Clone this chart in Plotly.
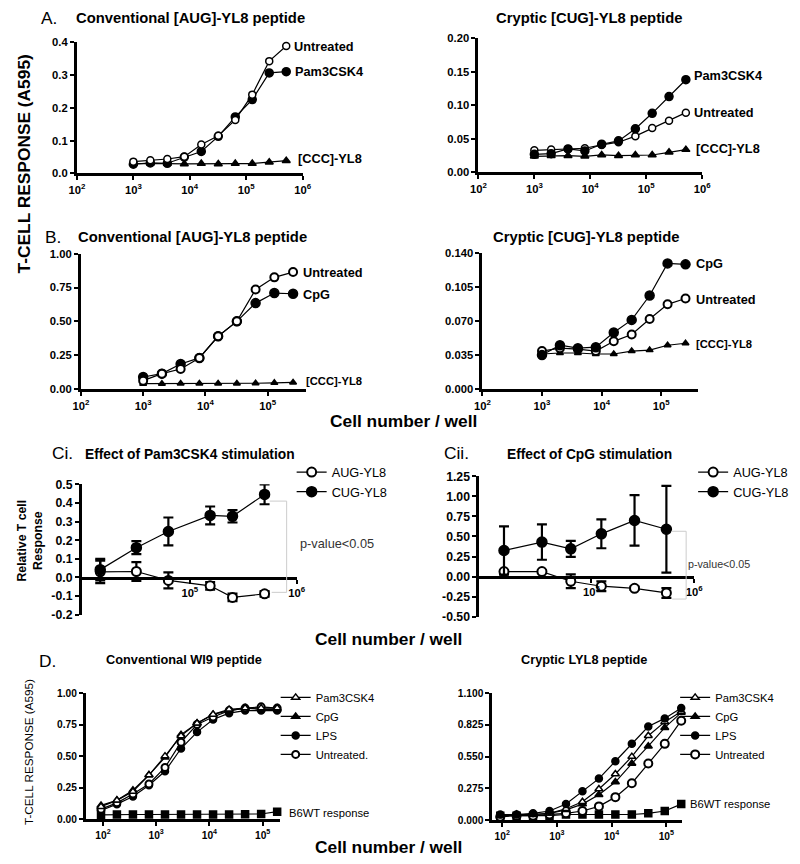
import math
import plotly.graph_objects as go

FONT = "Liberation Sans, Arial, sans-serif"
W, H = 800, 864
# screen placement correction (page appears offset/scaled in the capture)
OX, OY, SX, SY = 16.0, 16.0, 0.98, 0.981

# ---------------- data ----------------
cells_A = [1000, 2000, 4000, 8000, 16000, 32000, 64000, 128000, 256000, 512000]
A1_untreated = [0.036, 0.040, 0.044, 0.051, 0.088, 0.115, 0.163, 0.240, 0.342, 0.388]
A1_pam = [0.028, 0.032, 0.031, 0.050, 0.067, 0.113, 0.172, 0.225, 0.306, 0.310]
A1_ccc = [0.030, 0.031, 0.030, 0.029, 0.030, 0.029, 0.030, 0.030, 0.034, 0.039]
A2_pam = [0.027, 0.028, 0.035, 0.032, 0.042, 0.047, 0.065, 0.088, 0.113, 0.138]
A2_untreated = [0.033, 0.034, 0.035, 0.036, 0.041, 0.045, 0.054, 0.066, 0.077, 0.089]
A2_ccc = [0.024, 0.025, 0.025, 0.024, 0.026, 0.025, 0.026, 0.026, 0.030, 0.034]

cells_B = [1000, 2000, 4000, 8000, 16000, 32000, 64000, 128000, 256000]
B1_untreated = [0.062, 0.114, 0.148, 0.230, 0.390, 0.500, 0.736, 0.825, 0.864]
B1_cpg = [0.089, 0.114, 0.185, 0.230, 0.390, 0.500, 0.635, 0.709, 0.704]
B1_ccc = [0.040, 0.040, 0.041, 0.041, 0.041, 0.042, 0.043, 0.046, 0.049]
B2_cpg = [0.035, 0.045, 0.042, 0.043, 0.058, 0.071, 0.096, 0.129, 0.128]
B2_untreated = [0.039, 0.042, 0.041, 0.039, 0.049, 0.056, 0.072, 0.087, 0.093]
B2_ccc = [0.036, 0.037, 0.037, 0.036, 0.036, 0.039, 0.040, 0.045, 0.047]

cells_Ci = [14500, 31600, 63000, 155000, 251000, 501000]
Ci_aug = [0.030, 0.032, -0.016, -0.045, -0.107, -0.088]
Ci_aug_err = [0.060, 0.050, 0.043, 0.020, 0.020, 0.015]
Ci_cug = [0.042, 0.160, 0.247, 0.333, 0.328, 0.446]
Ci_cug_err = [0.058, 0.035, 0.075, 0.048, 0.033, 0.053]

cells_Cii = [14100, 33000, 63000, 125000, 263000, 537000]
Cii_aug = [0.062, 0.062, -0.058, -0.120, -0.146, -0.204]
Cii_aug_err = [0.012, 0.012, 0.085, 0.060, 0.020, 0.060]
Cii_cug = [0.325, 0.430, 0.346, 0.533, 0.700, 0.590]
Cii_cug_err = [0.300, 0.220, 0.100, 0.180, 0.315, 0.540]

cells_D = [92, 183, 366, 732, 1465, 2930, 5859, 11719, 23438, 46875, 93750, 187500]
D1_pam = [0.10, 0.15, 0.22, 0.35, 0.50, 0.66, 0.76, 0.83, 0.87, 0.88, 0.88, 0.88]
D1_cpg = [0.11, 0.15, 0.23, 0.35, 0.49, 0.67, 0.76, 0.83, 0.86, 0.88, 0.87, 0.87]
D1_lps = [0.07, 0.12, 0.18, 0.27, 0.38, 0.56, 0.69, 0.79, 0.84, 0.86, 0.86, 0.86]
D1_untreated = [0.08, 0.13, 0.20, 0.28, 0.41, 0.61, 0.75, 0.81, 0.86, 0.88, 0.89, 0.88]
D1_b6wt = [0.035, 0.038, 0.038, 0.038, 0.038, 0.038, 0.038, 0.038, 0.038, 0.040, 0.042, 0.060]
D2_pam = [0.04, 0.05, 0.05, 0.06, 0.10, 0.16, 0.27, 0.40, 0.55, 0.73, 0.85, 0.94]
D2_cpg = [0.04, 0.05, 0.05, 0.06, 0.09, 0.14, 0.22, 0.33, 0.49, 0.64, 0.80, 0.93]
D2_lps = [0.05, 0.05, 0.06, 0.08, 0.14, 0.25, 0.36, 0.51, 0.66, 0.81, 0.88, 0.97]
D2_untreated = [0.03, 0.04, 0.04, 0.05, 0.06, 0.08, 0.12, 0.20, 0.32, 0.49, 0.66, 0.86]
D2_b6wt = [0.04, 0.04, 0.04, 0.04, 0.05, 0.05, 0.05, 0.05, 0.05, 0.06, 0.08, 0.14]


def px(x):
    return ((x - OX) / SX) / W


def py(y):
    return 1 - ((y - OY) / SY) / H


def fs(s):
    return s / SX


fig = go.Figure()


def add(x, y, ax, symbol, filled, size=8, name=None, legend=None, err=None, lw=1.5, rank=None):
    marker = dict(symbol=symbol, size=size, color="black" if filled else "white",
                  line=dict(color="black", width=lw))
    tr = go.Scatter(x=x, y=y, mode="lines+markers", xaxis="x" + ax, yaxis="y" + ax,
                    line=dict(color="black", width=1.2), marker=marker, cliponaxis=False,
                    showlegend=legend is not None, name=name or "")
    if legend is not None:
        tr.legend = legend
    if rank is not None:
        tr.legendrank = rank
    if err is not None:
        tr.error_y = dict(type="data", array=err, color="black", thickness=2.2, width=5)
    fig.add_trace(tr)


# A
add(cells_A, A1_ccc, "", "triangle-up", True, 7)
add(cells_A, A1_pam, "", "circle", True)
add(cells_A, A1_untreated, "", "circle", False, 7)
add(cells_A, A2_ccc, "2", "triangle-up", True, 7)
add(cells_A, A2_untreated, "2", "circle", False, 7)
add(cells_A, A2_pam, "2", "circle", True)
# B
add(cells_B, B1_ccc, "3", "triangle-up", True, 6)
add(cells_B, B1_cpg, "3", "circle", True, 9)
add(cells_B, B1_untreated, "3", "circle", False, 8, lw=2)
add(cells_B, B2_ccc, "4", "triangle-up", True, 6)
add(cells_B, B2_untreated, "4", "circle", False, 8, lw=2)
add(cells_B, B2_cpg, "4", "circle", True, 9)
# C
add(cells_Ci, Ci_aug, "5", "circle", False, 9, "AUG-YL8", "legend", Ci_aug_err, lw=2, rank=1)
add(cells_Ci, Ci_cug, "5", "circle", True, 10, "CUG-YL8", "legend", Ci_cug_err, rank=2)
add(cells_Cii, Cii_aug, "6", "circle", False, 9, "AUG-YL8", "legend2", Cii_aug_err, lw=2, rank=1)
add(cells_Cii, Cii_cug, "6", "circle", True, 10, "CUG-YL8", "legend2", Cii_cug_err, rank=2)
# D
add(cells_D, D1_b6wt, "7", "square", True, 7)
add(cells_D, D1_lps, "7", "circle", True, 7, "LPS", "legend3", rank=3)
add(cells_D, D1_untreated, "7", "circle", False, 7, "Untreated.", "legend3", lw=2, rank=4)
add(cells_D, D1_cpg, "7", "triangle-up", True, 7, "CpG", "legend3", rank=2)
add(cells_D, D1_pam, "7", "triangle-up", False, 7, "Pam3CSK4", "legend3", rank=1)
add(cells_D, D2_b6wt, "8", "square", True, 7)
add(cells_D, D2_untreated, "8", "circle", False, 8, "Untreated", "legend4", lw=2, rank=4)
add(cells_D, D2_cpg, "8", "triangle-up", True, 7, "CpG", "legend4", rank=2)
add(cells_D, D2_pam, "8", "triangle-up", False, 7, "Pam3CSK4", "legend4", rank=1)
add(cells_D, D2_lps, "8", "circle", True, 7, "LPS", "legend4", rank=3)


def tfont(size=11):
    return dict(family=FONT, size=fs(size), color="black", weight="bold")


def xax(dom, rng, tv, anchor, size=11, **kw):
    d = dict(domain=[px(dom[0]), px(dom[1])], type="log", range=rng, showline=True,
             linecolor="black", linewidth=3, ticks="outside", ticklen=4, tickwidth=2,
             tickcolor="black", showgrid=False, zeroline=False, tickfont=tfont(size),
             tickvals=[10 ** e for e in tv],
             ticktext=["10<sup>%d</sup>" % e for e in tv], anchor=anchor)
    d.update(kw)
    return d


def yax(dom, vals, fmt, anchor, size=11):
    return dict(domain=[py(dom[1]), py(dom[0])], range=[vals[0], vals[-1]], showline=True,
                linecolor="black", linewidth=3, ticks="outside", ticklen=4, tickwidth=2,
                tickcolor="black", showgrid=False, zeroline=False, tickfont=tfont(size),
                tickvals=vals, ticktext=[fmt % v for v in vals], anchor=anchor)


layout = dict(
    width=W, height=H, margin=dict(l=0, r=0, t=0, b=0),
    paper_bgcolor="white", plot_bgcolor="white",
    font=dict(family=FONT, color="black"),
    xaxis=xax((77, 303), [2, 6], [2, 3, 4, 5, 6], "y"),
    yaxis=yax((43, 174), [0, 0.1, 0.2, 0.3, 0.4], "%.1f", "x"),
    xaxis2=xax((479, 703), [2, 6], [2, 3, 4, 5, 6], "y2"),
    yaxis2=yax((39, 173), [0, 0.05, 0.10, 0.15, 0.20], "%.2f", "x2"),
    xaxis3=xax((81, 306), [2, 5.61], [2, 3, 4, 5], "y3"),
    yaxis3=yax((254, 389), [0, 0.25, 0.5, 0.75, 1.0], "%.2f", "x3"),
    xaxis4=xax((483, 699), [2, 5.62], [2, 3, 4, 5], "y4"),
    yaxis4=yax((253, 389), [0, 0.035, 0.07, 0.105, 0.14], "%.3f", "x4"),
    xaxis5=xax((82, 297), [3.99, 6], [5, 6], "free", position=py(577)),
    yaxis5=yax((484, 614), [-0.2, -0.1, 0, 0.1, 0.2, 0.3, 0.4, 0.5], "%.1f", "x5", 12),
    xaxis6=xax((480, 695), [3.91, 6], [5, 6], "free", position=py(576)),
    yaxis6=yax((476, 616), [-0.5, -0.25, 0, 0.25, 0.5, 0.75, 1.0, 1.25], "%.2f", "x6", 12),
    xaxis7=xax((86, 280), [1.68, 5.32], [2, 3, 4, 5], "y7", 10),
    yaxis7=yax((692, 818), [0, 0.25, 0.5, 0.75, 1.0], "%.2f", "x7", 10),
    xaxis8=xax((493, 683), [1.82, 5.29], [2, 3, 4, 5], "y8", 10),
    yaxis8=yax((692, 819), [0, 0.275, 0.55, 0.825, 1.1], "%.3f", "x8", 10),
)

leg_common = dict(xanchor="left", yanchor="top", bgcolor="rgba(0,0,0,0)",
                  borderwidth=0, tracegroupgap=0, traceorder="normal")
layout["legend"] = dict(x=px(292), y=py(457), font=dict(family=FONT, size=fs(12.5)), **leg_common)
layout["legend2"] = dict(x=px(694), y=py(457), font=dict(family=FONT, size=fs(12.5)), **leg_common)
layout["legend3"] = dict(x=px(276), y=py(682), font=dict(family=FONT, size=fs(11)), **leg_common)
layout["legend4"] = dict(x=px(676), y=py(682), font=dict(family=FONT, size=fs(11)), **leg_common)
fig.update_layout(**layout)

ann = []


def text(x, y, s, size=12, bold=False, angle=0, color="black", xanchor="center", family=FONT):
    ann.append(dict(x=px(x), y=py(y), xref="paper", yref="paper", text=s, showarrow=False,
                    xanchor=xanchor, yanchor="middle", textangle=angle,
                    font=dict(family=family, size=fs(size), color=color,
                              weight="bold" if bold else "normal")))


def label(ax, xval, yval, s, shift, size=12.5):
    ann.append(dict(x=math.log10(xval), y=yval, xref="x" + ax, yref="y" + ax, text=s,
                    showarrow=False, xanchor="left", yanchor="middle", xshift=shift,
                    font=dict(family=FONT, size=fs(size), color="black", weight="bold")))


# panel titles
text(191, 19, "Conventional [AUG]-YL8 peptide", 14.5, True)
text(590, 19, "Cryptic [CUG]-YL8 peptide", 14.5, True)
text(193, 237, "Conventional [AUG]-YL8 peptide", 14.5, True)
text(587, 237, "Cryptic [CUG]-YL8 peptide", 14.5, True)
text(190, 454, "Effect of Pam3CSK4 stimulation", 13.5, True)
text(590, 454, "Effect of CpG stimulation", 13.5, True)
text(184, 659, "Conventional WI9 peptide", 12.5, True)
text(585, 659, "Cryptic LYL8 peptide", 12.5, True)
# panel letters
text(39, 19, "A.", 17, xanchor="left")
text(43, 237, "B.", 17, xanchor="left")
text(50, 453, "Ci.", 17, xanchor="left")
text(443, 453, "Cii.", 17, xanchor="left")
text(37, 660, "D.", 17, xanchor="left")
# axis titles
text(24, 164, "T-CELL RESPONSE (A595)", 17, True, -90)
text(404, 421, "Cell number / well", 17, True)
text(389, 638, "Cell number / well", 17, True)
text(389, 846, "Cell number / well", 17, True)
text(31, 540, "Relative T cell<br>Response", 12, True, -90)
text(28, 751, "T-CELL RESPONSE (A595)", 11.5, False, -90)
# p-values
text(298, 543, "p-value<0.05", 12.5, False, 0, "#333333", "left")
text(687, 563, "p-value<0.05", 10.5, False, 0, "#333333", "left")
# series labels
label("", cells_A[-1], A1_untreated[-1], "Untreated", 6)
label("", cells_A[-1], A1_pam[-1], "Pam3CSK4", 7)
label("", cells_A[-1], 0.044, "[CCC]-YL8", 10)
label("2", cells_A[-1], 0.145, "Pam3CSK4", 6)
label("2", cells_A[-1], 0.0895, "Untreated", 6)
label("2", cells_A[-1], 0.036, "[CCC]-YL8", 8)
label("3", cells_B[-1], 0.86, "Untreated", 8)
label("3", cells_B[-1], 0.70, "CpG", 8)
label("3", cells_B[-1], 0.06, "[CCC]-YL8", 11, 11)
label("4", cells_B[-1], 0.129, "CpG", 8)
label("4", cells_B[-1], 0.0917, "Untreated", 8)
label("4", cells_B[-1], 0.0465, "[CCC]-YL8", 8, 11)
ann.append(dict(x=math.log10(cells_D[-1]), y=0.048, xref="x7", yref="y7", text="B6WT response",
                showarrow=False, xanchor="left", yanchor="middle", xshift=10,
                font=dict(family=FONT, size=fs(11), color="black")))
ann.append(dict(x=math.log10(cells_D[-1]), y=0.139, xref="x8", yref="y8", text="B6WT response",
                showarrow=False, xanchor="left", yanchor="middle", xshift=7,
                font=dict(family=FONT, size=fs(11), color="black")))

shapes = [
    dict(type="path", xref="paper", yref="y5",
         path="M %f,0.41 L %f,0.41 L %f,-0.08 L %f,-0.08" % (px(270), px(287), px(287), px(272)),
         line=dict(color="#cccccc", width=1)),
    dict(type="path", xref="paper", yref="y6",
         path="M %f,0.565 L %f,0.565 L %f,-0.28 L %f,-0.28" % (px(672), px(687), px(687), px(673)),
         line=dict(color="#cccccc", width=1)),
]
fig.update_layout(annotations=ann, shapes=shapes)

fig.write_html("out.html")
